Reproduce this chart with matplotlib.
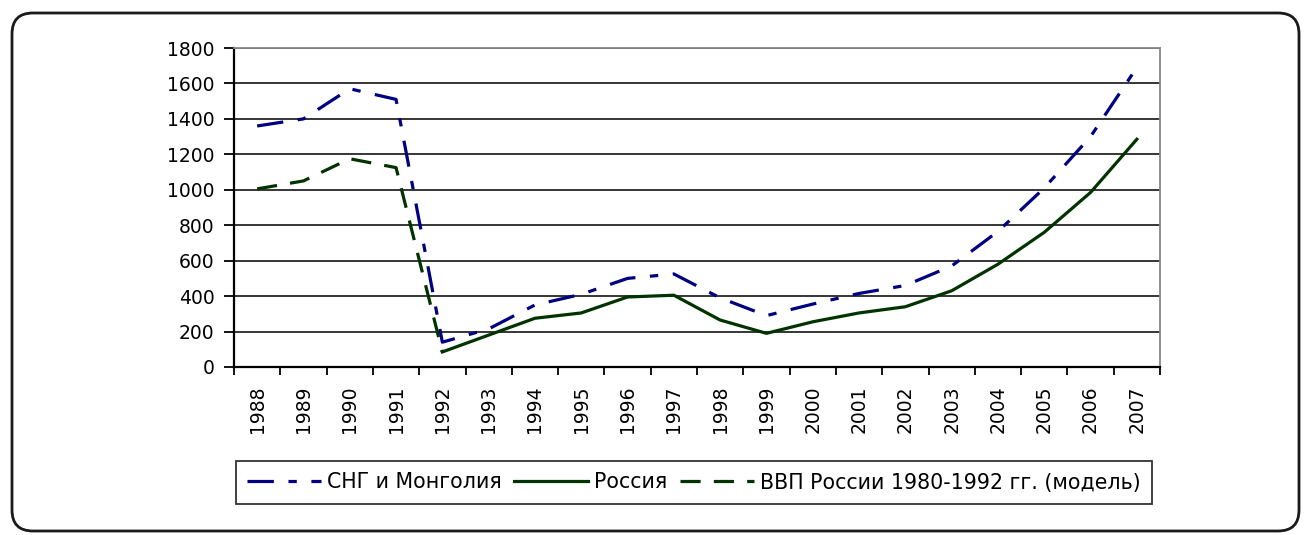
import matplotlib
matplotlib.use("Agg")
import matplotlib.pyplot as plt
from matplotlib.patches import FancyBboxPatch
import numpy as np

plt.rcParams['font.family'] = ['DejaVu Sans']
plt.rcParams['lines.scale_dashes'] = False

years = ['1988', '1989', '1990', '1991', '1992', '1993', '1994', '1995', '1996', '1997',
         '1998', '1999', '2000', '2001', '2002', '2003', '2004', '2005', '2006', '2007']
cis_mongolia = [1360, 1400, 1570, 1510, 140, 215, 350, 410, 500, 525,
                390, 290, 355, 415, 460, 570, 765, 1010, 1300, 1690]
russia_years = years[4:]
russia = [85, 180, 275, 305, 395, 405, 265, 190, 255, 305, 340, 430, 580, 760, 985, 1285]
model_years = years[:5]
russia_model = [1005, 1050, 1175, 1125, 85]
yticks = [0, 200, 400, 600, 800, 1000, 1200, 1400, 1600, 1800]

W, H = 1307, 535
fig = plt.figure(figsize=(W / 100, H / 100), dpi=100)

# outer rounded frame
frame = FancyBboxPatch((12 / W, 1 - 531 / H), (1299 - 12) / W, (531 - 13) / H,
                       boxstyle="round,pad=0,rounding_size=0.016",
                       transform=fig.transFigure, fill=False, edgecolor='#1a1a1a',
                       linewidth=2.0, mutation_aspect=W / H)
fig.patches.append(frame)

ax = fig.add_axes([234 / W, 1 - 367 / H, (1160 - 234) / W, (367 - 48) / H])

x_all = np.arange(len(years))
idx = {y: i for i, y in enumerate(years)}
x_rus = [idx[y] for y in russia_years]
x_mod = [idx[y] for y in model_years]

blue = '#000080'
green = '#003300'
ax.plot(x_all, cis_mongolia, color=blue, lw=2.3, dashes=(19, 10.5, 6, 10.5),
        label='СНГ и Монголия', zorder=3)
ax.plot(x_rus, russia, color=green, lw=2.3, label='Россия', zorder=3)
ax.plot(x_mod, russia_model, color=green, lw=2.3, dashes=(14.5, 9.5),
        label='ВВП России 1980-1992 гг. (модель)', zorder=3)

ax.set_xlim(-0.5, len(years) - 0.5)
ax.set_ylim(0, 1800)
ax.set_yticks(yticks)
ax.set_yticklabels([str(v) for v in yticks], fontsize=13.5)
ax.yaxis.grid(True, color='black', linewidth=1.1)
ax.set_axisbelow(True)

ax.set_xticks(x_all)
ax.set_xticklabels(years, rotation=90, fontsize=13.5)
ax.tick_params(axis='x', which='major', length=0, pad=13)
ax.set_xticks(np.arange(-0.5, len(years)), minor=True)
ax.tick_params(axis='x', which='minor', length=6, width=1.3, direction='out', color='black')
ax.tick_params(axis='y', length=7, width=1.3, direction='out', pad=7)

for s in ['top', 'right']:
    ax.spines[s].set_color('#888888')
    ax.spines[s].set_linewidth(1.3)
for s in ['left', 'bottom']:
    ax.spines[s].set_color('black')
    ax.spines[s].set_linewidth(1.6)

leg = fig.legend(loc='center', bbox_to_anchor=(694 / W, 1 - 482.5 / H), ncol=3,
                 fontsize=14.8, frameon=True, fancybox=False, edgecolor='black',
                 handlelength=3.6, handletextpad=0.3, columnspacing=0.6,
                 borderpad=0.55)
leg.get_frame().set_linewidth(1.3)

fig.savefig('out.png', dpi=100)
